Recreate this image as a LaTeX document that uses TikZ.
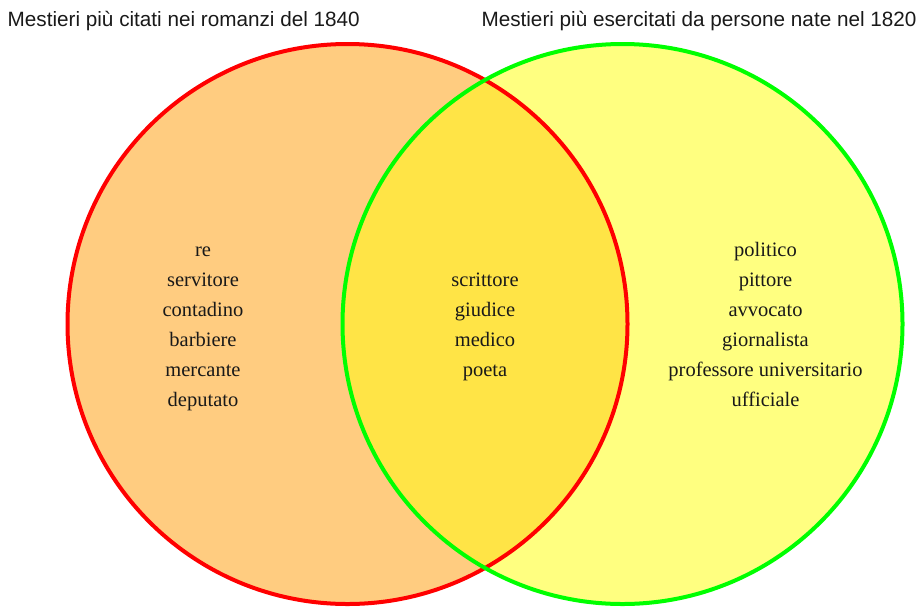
\documentclass[tikz,border=0pt]{standalone}
\usepackage{fontspec}
\setmainfont{Liberation Serif}
\newfontfamily\titlefont{Liberation Sans}
\definecolor{lfill}{HTML}{FFCC80}
\definecolor{rfill}{HTML}{FFFF80}
\definecolor{ifill}{HTML}{FFE446}
\definecolor{lline}{HTML}{FF0000}
\definecolor{rline}{HTML}{00FF00}
\tikzset{
  ttl/.style={font=\titlefont\fontsize{20.7}{24}\selectfont, inner sep=0pt, text=black!90},
  itm/.style={font=\fontsize{20.5}{24}\selectfont, inner sep=0pt, anchor=base, text=black!90},
  ring/.style={line width=4pt}
}
\begin{document}
\begin{tikzpicture}[x=1pt,y=-1pt]
\useasboundingbox (0,0) rectangle (923,606);
\coordinate (cl) at (347.5,324);
\coordinate (cr) at (622.5,324);
\fill[lfill] (cl) circle[radius=280];
\fill[rfill] (cr) circle[radius=280];
\begin{scope}
  \clip (cl) circle[radius=280];
  \fill[ifill] (cr) circle[radius=280];
\end{scope}
\draw[ring, lline] (cl) circle[radius=280];
\draw[ring, rline] (cr) circle[radius=280];
\node[ttl, anchor=base west] (tl) at (7.5,26.7) {Mestieri più citati nei romanzi del 1840};
\node[ttl, anchor=base east] (tr) at (916.7,26.7) {Mestieri più esercitati da persone nate nel 1820};
\foreach \t [count=\i] in {re,servitore,contadino,barbiere,mercante,deputato}
  \node[itm] (l\i) at (203,226.7+30*\i) {\t};
\foreach \t [count=\i] in {scrittore,giudice,medico,poeta}
  \node[itm] (m\i) at (485,256.7+30*\i) {\t};
\foreach \t [count=\i] in {politico,pittore,avvocato,giornalista,professore universitario,ufficiale}
  \node[itm] (r\i) at (765.5,226.7+30*\i) {\t};
\end{tikzpicture}
\end{document}
